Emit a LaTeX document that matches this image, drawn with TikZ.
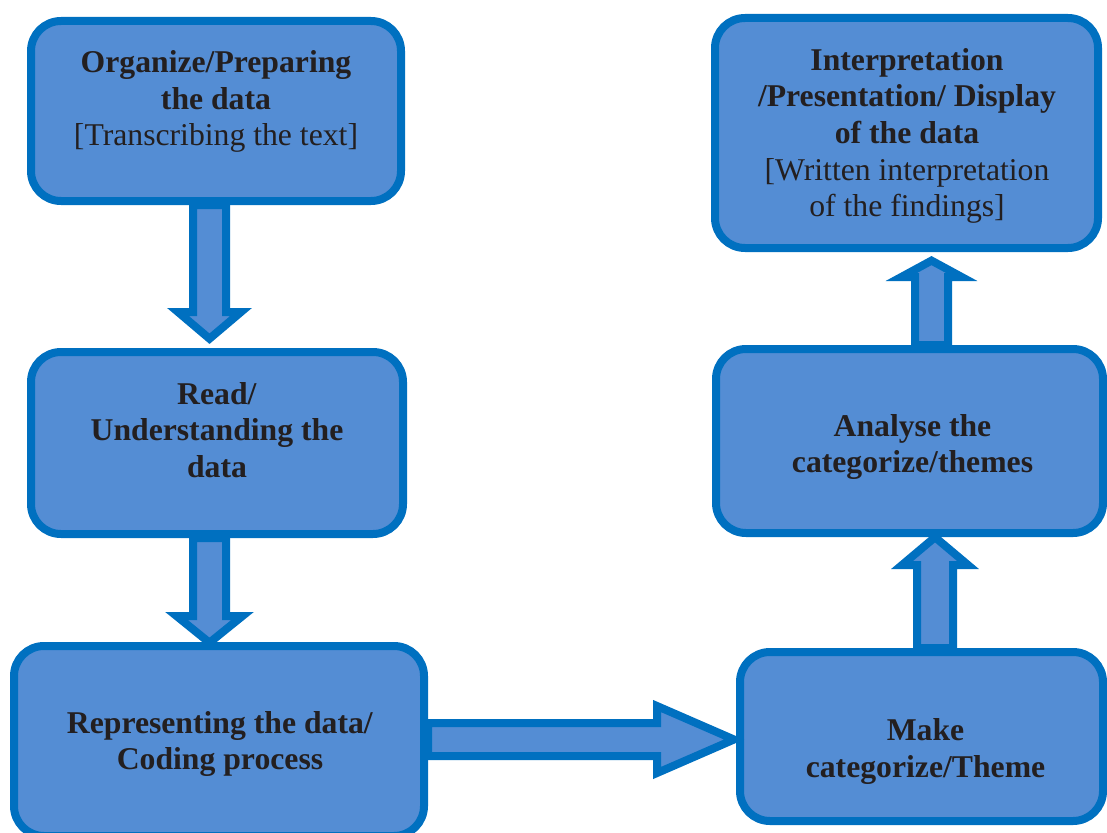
\documentclass[tikz,border=0pt]{standalone}
\usepackage{fontspec}
\setmainfont{Liberation Serif}
\usetikzlibrary{calc}
\definecolor{boxfill}{RGB}{84,141,212}
\definecolor{boxline}{RGB}{0,112,192}
\definecolor{txtcol}{RGB}{35,31,32}
% block arrows: #1 start, #2 tip, #3 shaft half width, #4 head half width, #5 head length
\newcommand\blockdown[5]{\draw[barrow] let \p1=(#1), \p2=(#2) in
 (\x1-#3,\y1) -- (\x1-#3,\y2+#5) -- (\x1-#4,\y2+#5) -- (\x1,\y2) -- (\x1+#4,\y2+#5) -- (\x1+#3,\y2+#5) -- (\x1+#3,\y1) -- cycle;}
\newcommand\blockup[5]{\draw[barrow] let \p1=(#1), \p2=(#2) in
 (\x1-#3,\y1) -- (\x1-#3,\y2-#5) -- (\x1-#4,\y2-#5) -- (\x1,\y2) -- (\x1+#4,\y2-#5) -- (\x1+#3,\y2-#5) -- (\x1+#3,\y1) -- cycle;}
\newcommand\blockright[5]{\draw[barrow] let \p1=(#1), \p2=(#2) in
 (\x1,\y1-#3) -- (\x2-#5,\y1-#3) -- (\x2-#5,\y1-#4) -- (\x2,\y1) -- (\x2-#5,\y1+#4) -- (\x2-#5,\y1+#3) -- (\x1,\y1+#3) -- cycle;}
\begin{document}
\begin{tikzpicture}[x=1pt,y=-1pt,
  stepbox/.style={draw=boxline, fill=boxfill, line width=8pt, rounded corners=30pt, inner sep=0pt},
  lbl/.style={text=txtcol, align=center, inner sep=0pt, font=\fontsize{31.7}{36.6}\selectfont},
  barrow/.style={draw=boxline, fill=boxfill, line width=8pt, line join=miter}]
\path[use as bounding box] (0,0) rectangle (1107,832);
\clip (0,0) rectangle (1107,832);

% boxes
\node[stepbox, minimum width=370pt, minimum height=180pt] (b1) at (216,111) {};
\node[stepbox, minimum width=372pt, minimum height=182pt] (b2) at (217,443) {};
\node[stepbox, minimum width=410pt, minimum height=190pt] (b3) at (219,741) {};
\node[stepbox, minimum width=383pt, minimum height=230pt] (b4) at (906.5,133) {};
\node[stepbox, minimum width=387pt, minimum height=184pt] (b5) at (909.5,441) {};
\node[stepbox, minimum width=363pt, minimum height=169pt] (b6) at (921.5,736.5) {};

% texts
\node[lbl] (t1) at ($(b1)+(0,-9.5)$) {\textbf{Organize/Preparing}\\\textbf{the data}\\{[}Transcribing the text{]}};
\node[lbl] (t2) at ($(b2)+(0,-13)$) {\textbf{Read/}\\\textbf{Understanding the}\\\textbf{data}};
\node[lbl] (t3) at ($(b3)+(1,3)$) {\textbf{Representing the data/}\\\textbf{Coding process}};
\node[lbl] (t4) at ($(b4)+(0.5,3)$) {\textbf{Interpretation}\\\textbf{/Presentation/ Display}\\\textbf{of the data}\\{[}Written interpretation\\of the findings{]}};
\node[lbl] (t5) at ($(b5)+(3,6)$) {\textbf{Analyse the}\\\textbf{categorize/themes}};
\node[lbl] (t6) at ($(b6)+(4,15)$) {\textbf{Make}\\\textbf{categorize/Theme}};

% arrow end points
\coordinate (a1s) at ($(b1.south)+(-6.5,0)$);
\coordinate (a1e) at ($(b2.north)+(-6.5,-9.3)$);
\coordinate (a2s) at ($(b2.south)+(-7.5,0)$);
\coordinate (a2e) at ($(b3.north)+(-9,0.7)$);
\coordinate (a3s) at ($(b3.east)+(0,-1.5)$);
\coordinate (a3e) at ($(b6.west)+(-2,0)$);
\coordinate (a4s) at ($(b6.north)+(13.5,0)$);
\coordinate (a4e) at ($(b5.south)+(25.5,0.2)$);
\coordinate (a5s) at ($(b5.north)+(22,0)$);
\coordinate (a5e) at ($(b4.south)+(25,8.6)$);

% arrows
\blockdown{a1s}{a1e}{16.5pt}{31.5pt}{26.7pt}
\blockdown{a2s}{a2e}{16.5pt}{33pt}{26.7pt}
\blockright{a3s}{a3e}{16.5pt}{33.5pt}{77pt}
\blockup{a4s}{a4e}{18pt}{33pt}{27.8pt}
\blockup{a5s}{a5e}{16.5pt}{30.2pt}{16.4pt}
\end{tikzpicture}
\end{document}
